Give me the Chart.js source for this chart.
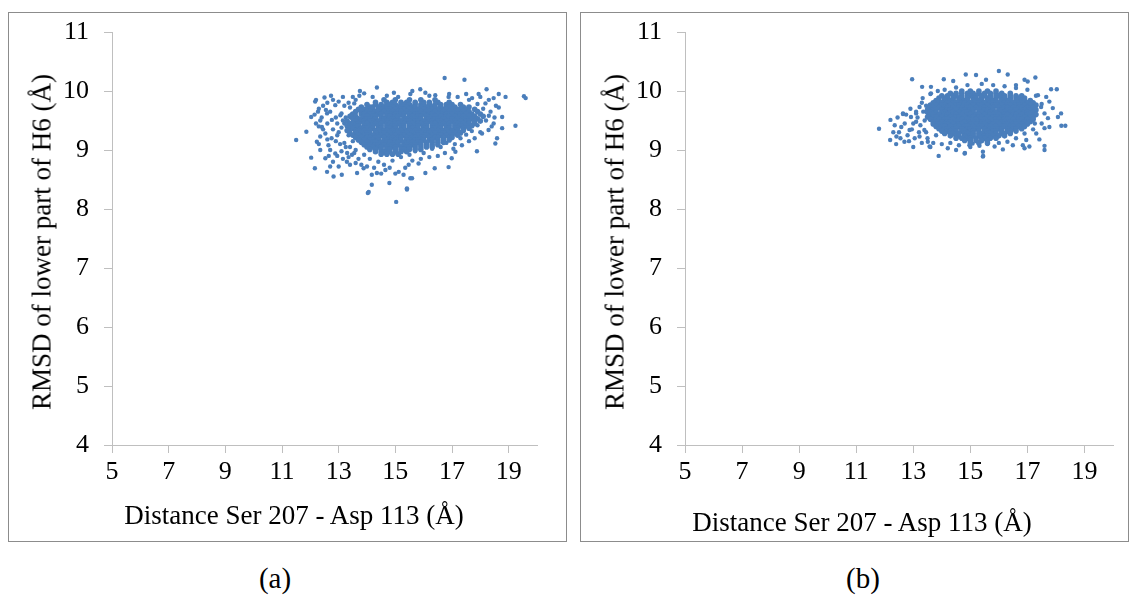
<!DOCTYPE html>
<html>
<head>
<meta charset="utf-8">
<script src="https://cdn.jsdelivr.net/npm/chart.js@4"></script>
<style>
  body { margin: 0; background: #fff; width: 1131px; height: 598px; position: relative; overflow: hidden;
         font-family: 'Liberation Serif', 'Times New Roman', serif; color: #000; }
  .panel { position: absolute; border: 1px solid #8c8c8c; box-sizing: border-box; }
  canvas { position: absolute; }
  .txt { position: absolute; white-space: nowrap; transform: translate(-50%, -50%); font-size: 27px; }
  .ytitle { transform: translate(-50%, -50%) rotate(-90deg); }
</style>
</head>
<body>
<div class="panel" style="left:8px;top:12px;width:559px;height:530px"></div>
<div class="panel" style="left:580px;top:12px;width:549px;height:530px"></div>
<canvas id="chartA" width="556" height="527" style="left:9px;top:13px"></canvas>
<canvas id="chartB" width="546" height="527" style="left:581px;top:13px"></canvas>
<div class="txt ytitle" style="left:42px;top:242px">RMSD of lower part of H6 (Å)</div>
<div class="txt ytitle" style="left:615px;top:242px">RMSD of lower part of H6 (Å)</div>
<div class="txt" style="left:294px;top:515px">Distance Ser 207 - Asp 113 (Å)</div>
<div class="txt" style="left:862px;top:522px">Distance Ser 207 - Asp 113 (Å)</div>
<div class="txt" style="left:275px;top:578px;font-size:29px">(a)</div>
<div class="txt" style="left:863px;top:578px;font-size:29px">(b)</div>
<script>
// tick values
const xTicks = [5, 7, 9, 11, 13, 15, 17, 19];
const yTicks = [4, 5, 6, 7, 8, 9, 10, 11];

// (a) dense core, one row per RMSD level: [rmsd, [distances...]]
const coreA = [
  [9.85, [14.6, 15.0, 15.5, 15.9, 16.4]],
  [9.81, [14.3, 14.7, 14.9, 15.2, 15.4, 15.7, 16.0, 16.2, 16.5, 16.9]],
  [9.77, [14.0, 14.3, 14.5, 14.7, 14.8, 15.0, 15.2, 15.3, 15.5, 15.7, 15.9, 16.0, 16.2, 16.4, 16.6, 16.8, 17.0, 17.3]],
  [9.73, [13.8, 14.1, 14.2, 14.4, 14.6, 14.7, 14.9, 15.1, 15.2, 15.4, 15.6, 15.7, 15.9, 16.1, 16.3, 16.4, 16.6, 16.8, 16.9, 17.1, 17.4, 17.6]],
  [9.69, [13.7, 13.9, 14.0, 14.2, 14.4, 14.5, 14.7, 14.8, 15.0, 15.2, 15.3, 15.5, 15.7, 15.8, 16.0, 16.2, 16.3, 16.5, 16.7, 16.8, 17.0, 17.2, 17.3, 17.5, 17.8]],
  [9.65, [13.6, 13.8, 14.0, 14.1, 14.3, 14.4, 14.6, 14.8, 14.9, 15.1, 15.2, 15.4, 15.6, 15.7, 15.9, 16.1, 16.2, 16.4, 16.6, 16.7, 16.9, 17.1, 17.2, 17.4, 17.6, 17.9]],
  [9.61, [13.5, 13.8, 13.9, 14.1, 14.2, 14.4, 14.5, 14.7, 14.9, 15.0, 15.2, 15.3, 15.5, 15.7, 15.8, 16.0, 16.2, 16.3, 16.5, 16.7, 16.8, 17.0, 17.2, 17.3, 17.5, 17.7, 18.0]],
  [9.57, [13.4, 13.6, 13.9, 14.0, 14.2, 14.3, 14.5, 14.7, 14.8, 15.0, 15.1, 15.3, 15.5, 15.6, 15.8, 15.9, 16.1, 16.3, 16.4, 16.6, 16.8, 16.9, 17.1, 17.3, 17.4, 17.6, 17.8, 18.1]],
  [9.53, [13.5, 13.7, 13.8, 14.0, 14.1, 14.3, 14.5, 14.6, 14.8, 14.9, 15.1, 15.3, 15.4, 15.6, 15.7, 15.9, 16.1, 16.2, 16.4, 16.5, 16.7, 16.9, 17.0, 17.2, 17.4, 17.5, 17.7, 17.9]],
  [9.49, [13.3, 13.6, 13.8, 13.9, 14.1, 14.2, 14.4, 14.6, 14.7, 14.9, 15.0, 15.2, 15.4, 15.5, 15.7, 15.8, 16.0, 16.2, 16.3, 16.5, 16.6, 16.8, 17.0, 17.1, 17.3, 17.5, 17.6, 17.8, 18.0]],
  [9.45, [13.4, 13.5, 13.7, 13.9, 14.0, 14.2, 14.3, 14.5, 14.7, 14.8, 15.0, 15.1, 15.3, 15.5, 15.6, 15.8, 15.9, 16.1, 16.3, 16.4, 16.6, 16.7, 16.9, 17.1, 17.2, 17.4, 17.6, 17.8]],
  [9.41, [13.3, 13.6, 13.7, 13.9, 14.1, 14.2, 14.4, 14.5, 14.7, 14.9, 15.0, 15.2, 15.3, 15.5, 15.7, 15.8, 16.0, 16.1, 16.3, 16.5, 16.6, 16.8, 16.9, 17.1, 17.3, 17.5, 17.7]],
  [9.37, [13.4, 13.5, 13.8, 13.9, 14.0, 14.2, 14.4, 14.5, 14.7, 14.8, 15.0, 15.2, 15.3, 15.5, 15.6, 15.8, 16.0, 16.1, 16.3, 16.4, 16.6, 16.8, 16.9, 17.1, 17.2, 17.4, 17.6]],
  [9.33, [13.3, 13.6, 13.7, 13.9, 14.1, 14.3, 14.4, 14.6, 14.7, 14.9, 15.1, 15.2, 15.4, 15.5, 15.7, 15.9, 16.0, 16.2, 16.3, 16.5, 16.7, 16.8, 17.0, 17.2, 17.4]],
  [9.29, [13.4, 13.6, 13.8, 14.0, 14.1, 14.3, 14.5, 14.6, 14.8, 15.0, 15.1, 15.3, 15.4, 15.6, 15.8, 15.9, 16.1, 16.2, 16.4, 16.6, 16.7, 16.9, 17.1, 17.3]],
  [9.25, [13.5, 13.7, 13.9, 14.0, 14.2, 14.4, 14.5, 14.7, 14.9, 15.0, 15.2, 15.3, 15.5, 15.7, 15.8, 16.0, 16.1, 16.3, 16.5, 16.6, 16.8, 17.0, 17.2]],
  [9.21, [13.6, 13.8, 14.0, 14.1, 14.3, 14.4, 14.6, 14.8, 14.9, 15.1, 15.2, 15.4, 15.6, 15.7, 15.9, 16.0, 16.2, 16.4, 16.5, 16.7, 16.9, 17.0]],
  [9.17, [13.7, 13.9, 14.1, 14.2, 14.4, 14.6, 14.7, 14.9, 15.0, 15.2, 15.4, 15.5, 15.7, 15.8, 16.0, 16.2, 16.3, 16.5, 16.7, 16.9]],
  [9.13, [13.8, 14.0, 14.2, 14.3, 14.5, 14.7, 14.8, 15.0, 15.1, 15.3, 15.5, 15.6, 15.8, 15.9, 16.1, 16.3, 16.5, 16.7]],
  [9.09, [13.9, 14.1, 14.3, 14.4, 14.6, 14.8, 14.9, 15.1, 15.3, 15.4, 15.6, 15.7, 15.9, 16.1, 16.3, 16.5]],
  [9.05, [14.0, 14.2, 14.4, 14.5, 14.7, 14.9, 15.0, 15.2, 15.4, 15.5, 15.7, 15.9, 16.1, 16.3]],
  [9.01, [14.1, 14.3, 14.5, 14.7, 14.8, 15.0, 15.2, 15.3, 15.5, 15.7, 15.9]],
  [8.97, [14.3, 14.5, 14.6, 14.8, 15.0, 15.2, 15.4]],
  [8.93, [14.5, 14.7, 14.9, 15.1]]
];

// (a) scattered points around the core: [distance, rmsd]
const sparseA = [
  [11.5, 9.17], [16.74, 10.22], [17.44, 10.19], [14.35, 10.06], [15.03, 8.12], [14.03, 8.27], [14.06, 8.29],
  [19.54, 9.91], [19.6, 9.88], [19.24, 9.41], [18.77, 9.37], [18.53, 9.11], [18.59, 9.2], [12.16, 8.69],
  [12.03, 8.87], [11.86, 9.31], [12.82, 8.55], [14.79, 8.44], [15.41, 8.33], [14.17, 8.41], [16.88, 8.71],
  [17.88, 8.98], [18.65, 9.95], [18.89, 9.9], [18.22, 10.03], [12.2, 9.85], [12.17, 9.82], [12.73, 9.92],
  [12.5, 9.89], [13.9, 9.96], [13.73, 9.92], [15.88, 10.03], [16.41, 9.93], [16.06, 9.97], [15.53, 9.95],
  [16.88, 9.9], [17.71, 9.88], [17.94, 9.95], [18.18, 9.79], [18.36, 9.65], [18.47, 9.45], [18.29, 9.34],
  [18.06, 9.28], [18.77, 9.56], [18.65, 9.72], [18.47, 9.88], [12.27, 9.65], [12.03, 9.56], [12.2, 9.45],
  [13.35, 9.8], [13.55, 9.79], [12.88, 9.76], [13.06, 9.59], [12.59, 9.62], [12.76, 9.51], [12.41, 9.39],
  [12.53, 9.28], [12.35, 9.23], [12.35, 9.0], [12.53, 8.86], [12.7, 8.72], [13.0, 8.72], [13.29, 8.8],
  [13.65, 8.61], [13.88, 8.69], [14.17, 8.58], [14.35, 8.61], [14.65, 8.66], [15.12, 8.63], [15.29, 8.58],
  [13.47, 8.92], [12.88, 8.94], [12.23, 9.14], [12.64, 9.08], [12.59, 8.63], [13.11, 8.58], [15.47, 8.75],
  [15.53, 8.52], [15.59, 8.52], [15.41, 8.35], [16.06, 8.61], [16.39, 8.69], [15.82, 8.77], [16.99, 8.86],
  [17.12, 8.97], [13.1, 9.62], [13.2, 9.45], [13.0, 9.3], [13.2, 9.12], [13.4, 9.05], [13.6, 9.0],
  [13.3, 8.95], [13.7, 8.85], [13.9, 8.92], [14.1, 8.85], [14.4, 8.8], [14.6, 8.75], [14.9, 8.82],
  [15.2, 8.88], [15.5, 8.92], [15.7, 8.98], [16.0, 8.95], [16.3, 9.02], [16.6, 9.05], [16.8, 9.12],
  [17.1, 9.1], [17.3, 9.2], [17.5, 9.26], [17.7, 9.32], [17.9, 9.42], [18.2, 9.5], [18.3, 9.58],
  [18.1, 9.7], [17.9, 9.78], [17.6, 9.85], [17.2, 9.9], [15.1, 9.9], [14.7, 9.92], [13.6, 9.85],
  [13.2, 9.75], [12.9, 9.55], [12.8, 9.35], [12.9, 9.15], [13.1, 8.98], [12.6, 9.45], [12.4, 9.55],
  [12.3, 9.1], [12.7, 9.0], [13.5, 9.9], [13.4, 8.75],
  [12.3, 9.7], [12.45, 9.75], [12.6, 9.8], [12.8, 9.85], [13.0, 9.82], [13.15, 9.9], [13.4, 9.72],
  [13.45, 9.6], [13.25, 9.55], [13.1, 9.38], [13.35, 9.25], [13.25, 9.05], [13.05, 9.1], [12.95, 9.25],
  [12.75, 9.2], [12.6, 9.18], [12.45, 9.35], [12.3, 9.4], [12.15, 9.6], [12.35, 9.5], [12.55, 9.68],
  [12.7, 9.65], [12.95, 9.45], [13.15, 9.5], [13.3, 9.4], [13.5, 9.15], [13.55, 8.95], [13.35, 8.88],
  [13.15, 8.85], [12.95, 8.9], [12.8, 8.8], [12.65, 8.9], [13.6, 8.78], [13.8, 8.75], [14.0, 8.72],
  [14.25, 8.7], [14.5, 8.6], [14.8, 8.7], [15.0, 8.6], [15.35, 8.7], [15.6, 8.82], [15.9, 8.85],
  [16.2, 8.88], [16.5, 8.9], [16.75, 8.95], [17.05, 9.02], [17.35, 9.08], [17.6, 9.15], [17.8, 9.2],
  [18.0, 9.3], [18.4, 9.4], [18.5, 9.55], [18.55, 9.75], [18.3, 9.85], [18.0, 9.9], [17.5, 9.95],
  [16.9, 9.95], [16.2, 9.92], [15.6, 10.0], [14.95, 9.97], [14.2, 9.9], [13.75, 10.0]
];

// (b) dense core
const coreB = [
  [10.00, [14.7, 15.0, 15.3, 15.6, 15.9]],
  [9.96, [14.3, 14.5, 14.7, 14.9, 15.1, 15.3, 15.5, 15.7, 15.9, 16.1, 16.4]],
  [9.92, [14.0, 14.2, 14.4, 14.5, 14.7, 14.9, 15.0, 15.2, 15.4, 15.5, 15.7, 15.9, 16.0, 16.2, 16.4, 16.6, 16.8]],
  [9.88, [13.9, 14.1, 14.2, 14.4, 14.6, 14.7, 14.9, 15.1, 15.2, 15.4, 15.6, 15.7, 15.9, 16.1, 16.2, 16.4, 16.6, 16.7, 16.9]],
  [9.84, [13.8, 13.9, 14.1, 14.3, 14.4, 14.6, 14.8, 14.9, 15.1, 15.3, 15.4, 15.6, 15.8, 15.9, 16.1, 16.3, 16.4, 16.6, 16.8, 16.9, 17.1]],
  [9.80, [13.7, 13.9, 14.0, 14.2, 14.4, 14.5, 14.7, 14.8, 15.0, 15.2, 15.3, 15.5, 15.7, 15.8, 16.0, 16.2, 16.3, 16.5, 16.7, 16.8, 17.0, 17.2]],
  [9.76, [13.6, 13.8, 14.0, 14.1, 14.3, 14.5, 14.6, 14.8, 14.9, 15.1, 15.3, 15.4, 15.6, 15.8, 15.9, 16.1, 16.3, 16.4, 16.6, 16.7, 16.9, 17.1, 17.3]],
  [9.72, [13.6, 13.7, 13.9, 14.1, 14.2, 14.4, 14.6, 14.7, 14.9, 15.0, 15.2, 15.4, 15.5, 15.7, 15.8, 16.0, 16.2, 16.3, 16.5, 16.7, 16.8, 17.0, 17.2]],
  [9.68, [13.5, 13.7, 13.8, 14.0, 14.2, 14.3, 14.5, 14.7, 14.8, 15.0, 15.1, 15.3, 15.5, 15.6, 15.8, 16.0, 16.1, 16.3, 16.4, 16.6, 16.8, 16.9, 17.1, 17.3]],
  [9.64, [13.5, 13.6, 13.8, 14.0, 14.1, 14.3, 14.4, 14.6, 14.8, 14.9, 15.1, 15.3, 15.4, 15.6, 15.7, 15.9, 16.1, 16.2, 16.4, 16.5, 16.7, 16.9, 17.0, 17.2]],
  [9.60, [13.6, 13.7, 13.9, 14.1, 14.2, 14.4, 14.5, 14.7, 14.9, 15.0, 15.2, 15.3, 15.5, 15.7, 15.8, 16.0, 16.2, 16.3, 16.5, 16.6, 16.8, 17.0, 17.1, 17.3]],
  [9.56, [13.5, 13.7, 13.8, 14.0, 14.2, 14.3, 14.5, 14.6, 14.8, 15.0, 15.1, 15.3, 15.4, 15.6, 15.8, 15.9, 16.1, 16.2, 16.4, 16.6, 16.7, 16.9, 17.1, 17.2]],
  [9.52, [13.6, 13.8, 13.9, 14.1, 14.2, 14.4, 14.6, 14.7, 14.9, 15.1, 15.2, 15.4, 15.5, 15.7, 15.9, 16.0, 16.2, 16.3, 16.5, 16.7, 16.8, 17.0, 17.2]],
  [9.48, [13.7, 13.8, 14.0, 14.2, 14.3, 14.5, 14.6, 14.8, 15.0, 15.1, 15.3, 15.4, 15.6, 15.8, 15.9, 16.1, 16.2, 16.4, 16.6, 16.7, 16.9, 17.1]],
  [9.44, [13.7, 13.9, 14.1, 14.2, 14.4, 14.6, 14.7, 14.9, 15.0, 15.2, 15.4, 15.5, 15.7, 15.8, 16.0, 16.2, 16.3, 16.5, 16.6, 16.8, 17.0]],
  [9.40, [13.8, 14.0, 14.1, 14.3, 14.5, 14.6, 14.8, 14.9, 15.1, 15.3, 15.4, 15.6, 15.7, 15.9, 16.1, 16.2, 16.4, 16.5, 16.7, 16.9]],
  [9.36, [13.9, 14.1, 14.2, 14.4, 14.5, 14.7, 14.9, 15.0, 15.2, 15.3, 15.5, 15.7, 15.8, 16.0, 16.1, 16.3, 16.5, 16.6, 16.8]],
  [9.32, [14.0, 14.2, 14.3, 14.5, 14.7, 14.8, 15.0, 15.1, 15.3, 15.5, 15.6, 15.8, 15.9, 16.1, 16.3, 16.4, 16.6]],
  [9.28, [14.1, 14.3, 14.4, 14.6, 14.8, 14.9, 15.1, 15.3, 15.4, 15.6, 15.7, 15.9, 16.1, 16.2, 16.4]],
  [9.24, [14.3, 14.5, 14.6, 14.8, 15.0, 15.1, 15.3, 15.5, 15.6, 15.8, 16.0, 16.2]],
  [9.20, [14.5, 14.7, 14.9, 15.0, 15.2, 15.4, 15.5, 15.7, 15.9]],
  [9.16, [14.8, 15.0, 15.2, 15.4, 15.6]],
  [9.12, [15.0, 15.3, 15.6]]
];

// (b) scattered points
const sparseB = [
  [11.8, 9.36], [12.96, 10.2], [13.89, 8.9], [15.45, 8.9], [14.81, 8.95], [16.0, 10.34], [16.31, 10.28],
  [14.84, 10.28], [15.2, 10.27], [17.28, 10.23], [18.33, 9.41], [18.19, 9.41], [18.18, 9.62], [18.07, 9.56],
  [18.03, 10.03], [17.83, 10.03], [17.6, 9.0], [17.6, 9.07], [12.19, 9.17], [12.2, 9.51], [12.64, 9.61],
  [13.31, 10.07], [13.62, 10.07], [14.07, 10.2], [14.4, 10.17], [16.9, 9.03], [17.42, 9.18], [13.33, 9.88],
  [13.62, 9.96], [13.86, 10.0], [13.22, 9.73], [12.64, 9.62], [13.1, 9.65], [13.51, 9.71], [12.35, 9.42],
  [12.41, 9.23], [12.58, 9.39], [12.87, 9.34], [12.69, 9.14], [13.1, 9.48], [13.22, 9.23], [12.92, 9.56],
  [13.51, 9.14], [13.57, 9.06], [13.39, 9.34], [13.8, 9.25], [14.21, 9.03], [14.5, 9.0], [14.8, 8.94],
  [14.97, 9.08], [13.1, 9.62], [16.9, 10.19], [17.01, 10.16], [15.55, 10.19], [16.6, 10.1], [17.66, 9.9],
  [17.37, 9.93], [17.48, 9.73], [17.77, 9.82], [17.89, 9.71], [17.77, 9.39], [17.6, 9.37], [17.07, 9.06],
  [16.84, 9.08], [16.49, 9.08], [16.14, 9.01], [15.85, 9.06], [15.44, 8.97], [15.44, 8.89], [15.32, 9.07],
  [15.08, 9.11], [17.31, 9.28], [17.26, 9.45], [17.72, 9.54], [16.96, 9.17], [13.3, 9.8], [13.4, 9.5],
  [13.2, 9.3], [13.5, 9.2], [13.7, 9.12], [14.0, 9.1], [14.3, 9.12], [14.6, 9.08], [15.0, 9.05],
  [15.6, 9.1], [16.0, 9.12], [16.3, 9.14], [16.6, 9.2], [16.9, 9.28], [17.2, 9.35], [17.5, 9.45],
  [17.6, 9.62], [17.5, 9.78], [17.3, 9.92], [17.0, 10.02], [16.6, 10.05], [16.2, 10.08], [15.8, 10.1],
  [15.4, 10.12], [14.9, 10.1], [14.5, 10.06], [14.1, 10.02], [13.6, 9.95], [13.0, 9.45], [12.8, 9.25],
  [12.5, 9.3], [12.9, 9.7],
  [12.3, 9.3], [12.45, 9.55], [12.55, 9.2], [12.7, 9.45], [12.75, 9.6], [12.85, 9.15], [12.95, 9.35],
  [13.05, 9.2], [13.15, 9.55], [13.25, 9.42], [13.35, 9.65], [13.45, 9.3], [13.45, 9.75], [13.3, 9.12],
  [13.6, 9.05], [12.4, 9.1], [13.0, 9.05]
];

const POINT_COLOR = '#4a7ebb';
const AXIS_COLOR = '#bfbfbf';

function rowsToPoints(core) {
  const pts = [];
  core.forEach(([y, xs]) => xs.forEach(x => pts.push({ x: x, y: y })));
  return pts;
}

function pairsToPoints(pairs) {
  return pairs.map(([x, y]) => ({ x: x, y: y }));
}

function makeChart(canvasId, core, sparse, padRight, yWidth) {
  const tickFont = { family: "'Liberation Serif', 'Times New Roman', serif", size: 26 };
  return new Chart(document.getElementById(canvasId), {
    type: 'scatter',
    data: {
      datasets: [
        { data: rowsToPoints(core), backgroundColor: POINT_COLOR, borderWidth: 0, pointRadius: 2.8 },
        { data: pairsToPoints(sparse), backgroundColor: POINT_COLOR, borderWidth: 0, pointRadius: 2.2 }
      ]
    },
    options: {
      responsive: false,
      animation: false,
      devicePixelRatio: 1,
      layout: { padding: { top: 19, right: padRight, left: 0, bottom: 0 } },
      plugins: { legend: { display: false }, tooltip: { enabled: false } },
      scales: {
        x: {
          type: 'linear', min: 5, max: 20,
          afterBuildTicks: s => { s.ticks = xTicks.map(v => ({ value: v })); },
          afterFit: s => { s.height = 95; s.paddingLeft = 0; s.paddingRight = 0; },
          grid: { drawOnChartArea: false, tickLength: 8, color: AXIS_COLOR },
          border: { color: AXIS_COLOR },
          ticks: { color: '#000', font: tickFont, padding: 4, maxRotation: 0 }
        },
        y: {
          type: 'linear', min: 4, max: 11,
          afterBuildTicks: s => { s.ticks = yTicks.map(v => ({ value: v })); },
          afterFit: s => { s.width = yWidth; s.paddingTop = 0; s.paddingBottom = 0; },
          grid: { drawOnChartArea: false, tickLength: 8, color: AXIS_COLOR },
          border: { color: AXIS_COLOR },
          ticks: { color: '#000', font: tickFont, padding: 15 }
        }
      }
    }
  });
}

makeChart('chartA', coreA, sparseA, 28, 103);
makeChart('chartB', coreB, sparseB, 14, 104);
</script>
</body>
</html>
